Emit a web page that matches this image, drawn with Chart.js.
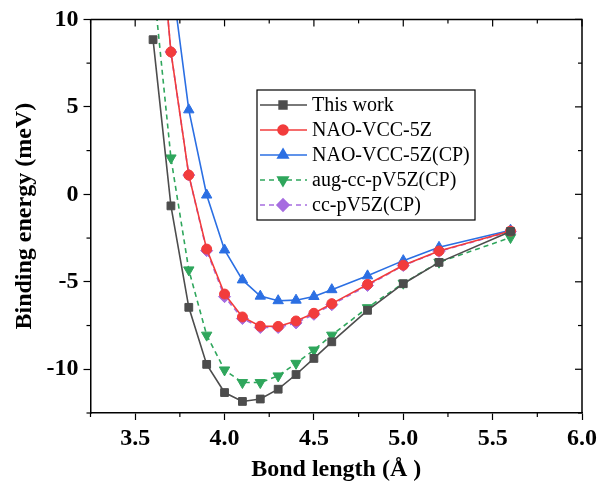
<!doctype html>
<html>
<head>
<meta charset="utf-8">
<title>Binding energy vs bond length</title>
<script src="https://cdn.jsdelivr.net/npm/chart.js"></script>
<style>
  html, body { margin: 0; padding: 0; background: #fff; }
  #wrap { width: 611px; height: 484px; position: relative; }
</style>
</head>
<body>
<div id="wrap"><canvas id="chart"></canvas></div>
<script>
// bond length (Å)
const bondLength = [3.6, 3.7, 3.8, 3.9, 4.0, 4.1, 4.2, 4.3, 4.4, 4.5, 4.6, 4.8, 5.0, 5.2, 5.6]

// binding energies (meV)
const thisWork   = [8.84, -0.66, -6.46, -9.72, -11.33, -11.84, -11.70, -11.14, -10.30, -9.38, -8.43, -6.63, -5.11, -3.89, -2.12]
const naoVcc5z   = [19.6, 8.14, 1.10, -3.13, -5.70, -7.01, -7.54, -7.55, -7.24, -6.80, -6.25, -5.15, -4.05, -3.24, -2.10]
const naoVcc5zCP = [25.0, 12.7, 4.83, -0.04, -3.18, -4.89, -5.82, -6.08, -6.05, -5.84, -5.45, -4.66, -3.79, -3.03, -2.05]
const augCcCP    = [12.24, 2.08, -4.32, -8.05, -10.04, -10.76, -10.76, -10.38, -9.66, -8.90, -8.05, -6.48, -5.08, -3.88, -2.47]
const ccCP       = [19.6, 8.14, 1.10, -3.22, -5.85, -7.10, -7.61, -7.61, -7.35, -6.86, -6.31, -5.21, -4.07, -3.26, -2.12]

const seriesNames = ['This work', 'NAO-VCC-5Z', 'NAO-VCC-5Z(CP)', 'aug-cc-pV5Z(CP)', 'cc-pV5Z(CP)']

// axis ticks
const xTickLabels = [3.5, 4.0, 4.5, 5.0, 5.5, 6.0]
const xMinorTicks = [3.25, 3.75, 4.25, 4.75, 5.25, 5.75]
const yTickLabels = [-10, -5, 0, 5, 10]
const yMinorTicks = [-12.5, -7.5, -2.5, 2.5, 7.5]

const pts = (ys) => bondLength.map((x, i) => ({ x, y: ys[i] }))

const tickFont = { family: 'Liberation Serif', size: 24, weight: 'bold' }
const titleFont = { family: 'Liberation Serif', size: 24, weight: 'bold' }

const styles = [
  { color: '#4d4d4d', pointStyle: 'rect', radius: 5.5, rotation: 0, dash: [] },
  { color: '#f23c3c', pointStyle: 'circle', radius: 5, rotation: 0, dash: [] },
  { color: '#2b6fe3', pointStyle: 'triangle', radius: 6, rotation: 0, dash: [] },
  { color: '#2fa65c', pointStyle: 'triangle', radius: 6, rotation: 180, dash: [5, 4] },
  { color: '#a66de0', pointStyle: 'rectRot', radius: 6, rotation: 0, dash: [5, 4] }
]
const values = [thisWork, naoVcc5z, naoVcc5zCP, augCcCP, ccCP]

const datasets = seriesNames.map((name, i) => ({
  label: name,
  data: pts(values[i]),
  borderColor: styles[i].color,
  backgroundColor: styles[i].color,
  borderWidth: 1.6,
  borderDash: styles[i].dash,
  pointStyle: styles[i].pointStyle,
  pointRadius: styles[i].radius,
  pointRotation: styles[i].rotation,
  pointBorderWidth: 1,
  pointBorderColor: styles[i].color,
  pointBackgroundColor: styles[i].color,
  tension: 0
}))

// minor ticks, mirrored ticks on top/right and the legend box
const frame = {
  id: 'frame',
  afterDraw(chart) {
    const { ctx, chartArea: a, scales: { x, y } } = chart
    ctx.save()
    ctx.strokeStyle = '#000'
    ctx.lineWidth = 1.5
    ctx.beginPath()
    ctx.moveTo(a.left, a.top); ctx.lineTo(a.right, a.top); ctx.lineTo(a.right, a.bottom)
    ctx.stroke()
    ctx.lineWidth = 1.2
    const line = (x1, y1, x2, y2) => { ctx.beginPath(); ctx.moveTo(x1, y1); ctx.lineTo(x2, y2); ctx.stroke() }
    xTickLabels.forEach(v => { const p = x.getPixelForValue(v); line(p, a.top, p, a.top + 7) })
    xMinorTicks.forEach(v => { const p = x.getPixelForValue(v); line(p, a.bottom, p, a.bottom + 4); line(p, a.top, p, a.top + 4) })
    yTickLabels.forEach(v => { const p = y.getPixelForValue(v); line(a.right, p, a.right - 7, p) })
    yMinorTicks.forEach(v => { const p = y.getPixelForValue(v); line(a.left, p, a.left - 4, p); line(a.right, p, a.right - 4, p) })

    // legend
    const bx = 257, by = 90, bw = 218, bh = 130
    ctx.fillStyle = '#fff'
    ctx.fillRect(bx, by, bw, bh)
    ctx.strokeStyle = '#000'
    ctx.lineWidth = 1.2
    ctx.strokeRect(bx, by, bw, bh)
    ctx.font = '20px "Liberation Serif"'
    ctx.textBaseline = 'middle'
    ctx.textAlign = 'left'
    seriesNames.forEach((name, i) => {
      const s = styles[i]
      const ry = by + 15 + i * 25
      ctx.strokeStyle = s.color
      ctx.lineWidth = 1.6
      ctx.setLineDash(s.dash)
      line(bx + 3, ry, bx + 50, ry)
      ctx.setLineDash([])
      ctx.fillStyle = s.color
      Chart.helpers.drawPoint(ctx, { pointStyle: s.pointStyle, radius: s.radius, rotation: s.rotation, borderWidth: 1 }, bx + 26, ry)
      ctx.fillStyle = '#000'
      ctx.fillText(name, bx + 55, ry + 1)
    })
    ctx.restore()
  }
}

new Chart(document.getElementById('chart'), {
  type: 'line',
  data: { datasets },
  plugins: [frame],
  options: {
    responsive: true,
    maintainAspectRatio: false,
    devicePixelRatio: 1,
    animation: false,
    layout: { padding: { top: 17, right: 29, left: 0, bottom: 0 } },
    plugins: { legend: { display: false }, tooltip: { enabled: false } },
    scales: {
      x: {
        type: 'linear',
        min: 3.25,
        max: 6.0,
        afterBuildTicks: (s) => { s.ticks = xTickLabels.map(v => ({ value: v })) },
        afterFit: (s) => { s.height = 71 },
        ticks: { font: tickFont, color: '#000', padding: 4, maxRotation: 0, autoSkip: false, callback: (v) => Number(v).toFixed(1) },
        grid: { drawOnChartArea: false, drawTicks: true, tickLength: 7, tickColor: '#000', tickWidth: 1.2 },
        border: { display: true, color: '#000', width: 1.5 },
        title: { display: true, text: 'Bond length (Å )', font: titleFont, color: '#000', padding: { top: 0, bottom: 0 } }
      },
      y: {
        type: 'linear',
        min: -12.5,
        max: 10,
        afterBuildTicks: (s) => { s.ticks = yTickLabels.map(v => ({ value: v })) },
        afterFit: (s) => { s.width = 90.5 },
        ticks: { font: tickFont, color: '#000', padding: 5, autoSkip: false, callback: (v) => String(v) },
        grid: { drawOnChartArea: false, drawTicks: true, tickLength: 7, tickColor: '#000', tickWidth: 1.2 },
        border: { display: true, color: '#000', width: 1.5 },
        title: { display: true, text: 'Binding energy (meV)', font: titleFont, color: '#000', padding: { top: 10, bottom: 0 } }
      }
    }
  }
})
</script>
</body>
</html>
